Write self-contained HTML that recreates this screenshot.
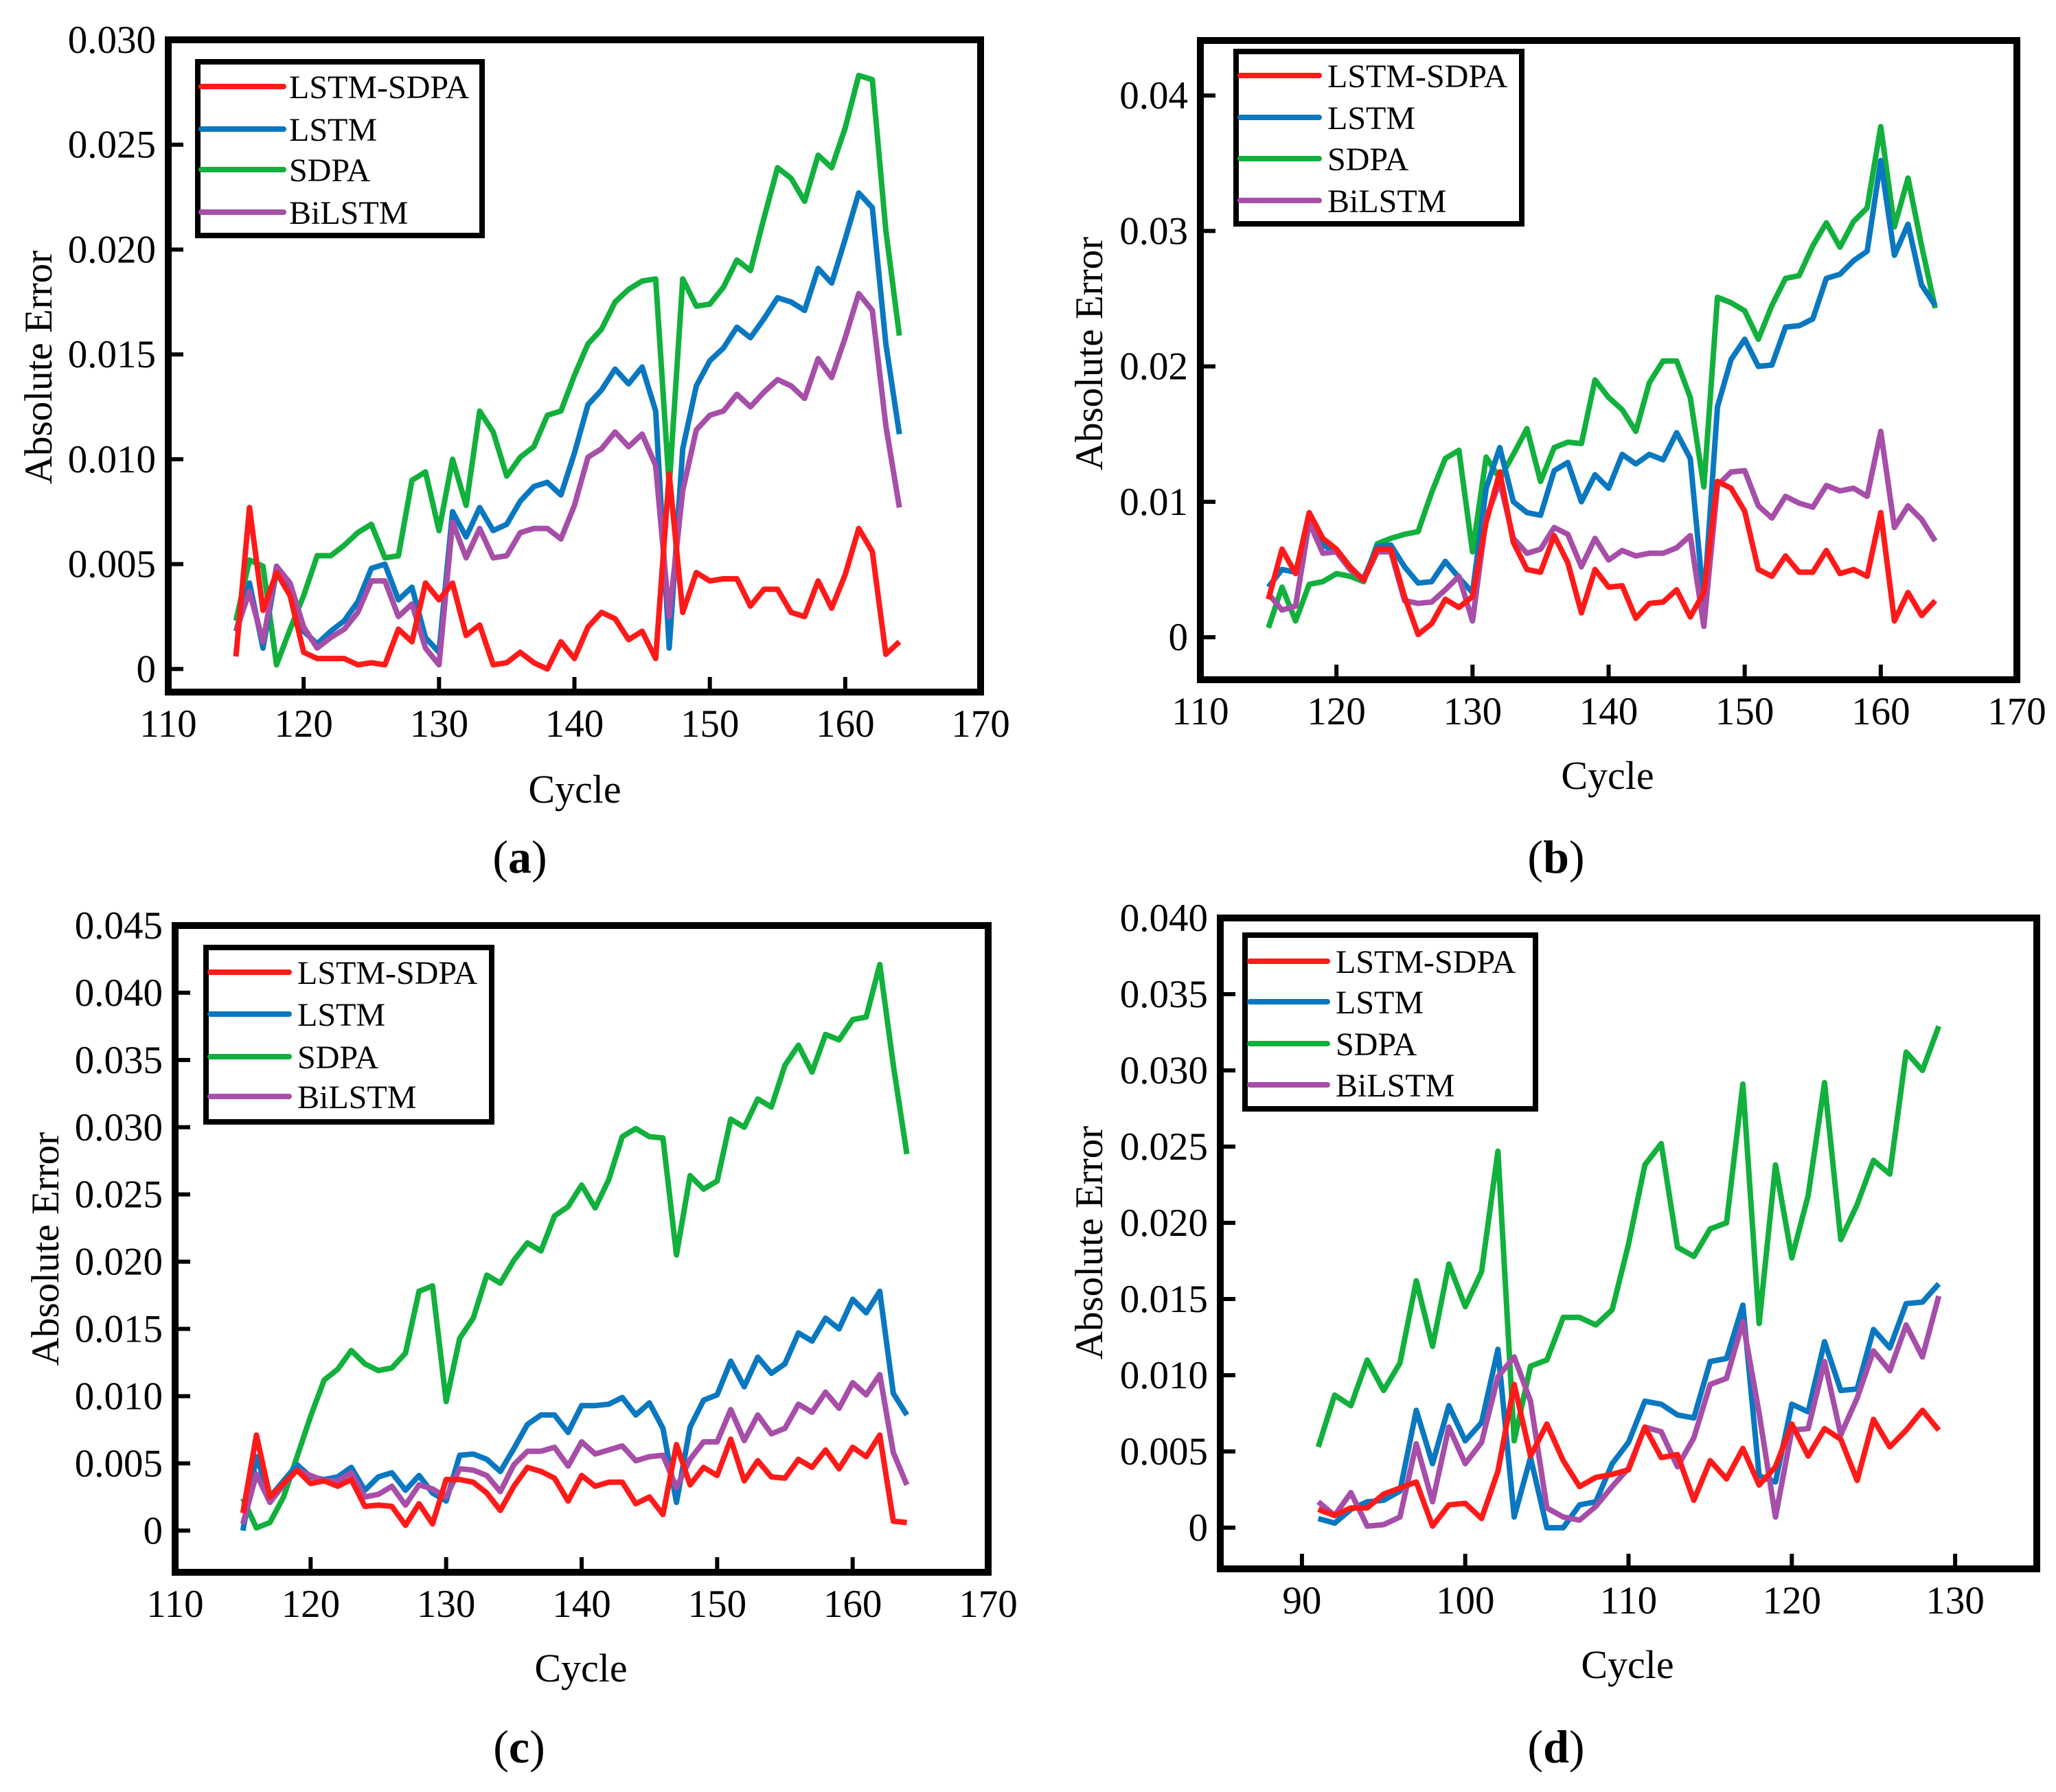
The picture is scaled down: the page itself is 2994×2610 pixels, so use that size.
<!DOCTYPE html>
<html><head><meta charset="utf-8"><style>
html,body{margin:0;padding:0;background:#fff}
svg{display:block}
text{font-family:"Liberation Serif",serif;fill:#000}
</style></head><body>
<svg id="fig" width="2994" height="2610" viewBox="0 0 2994 2610" xmlns="http://www.w3.org/2000/svg"></svg>
<script>
// ---- data ----
const cyclesABC = Array.from({length:50},(_,i)=>115+i);
const cyclesD = Array.from({length:39},(_,i)=>91+i);
const seriesNames = ["LSTM-SDPA","LSTM","SDPA","BiLSTM"];

const aRed=[0.0006,0.0077,0.0028,0.0046,0.0035,0.0008,0.0005,0.0005,0.0005,0.0002,0.0003,0.0002,0.0019,0.0013,0.0041,0.0033,0.0041,0.0016,0.0021,0.0002,0.0003,0.0008,0.0003,0.0000,0.0013,0.0005,0.0020,0.0027,0.0024,0.0014,0.0018,0.0005,0.0093,0.0027,0.0046,0.0042,0.0043,0.0043,0.0030,0.0038,0.0038,0.0027,0.0025,0.0042,0.0029,0.0045,0.0067,0.0056,0.0007,0.0013];
const aBlue=[0.0018,0.0041,0.0010,0.0047,0.0036,0.0018,0.0012,0.0018,0.0023,0.0032,0.0048,0.0050,0.0033,0.0039,0.0015,0.0008,0.0075,0.0063,0.0077,0.0066,0.0069,0.0080,0.0087,0.0089,0.0083,0.0103,0.0126,0.0133,0.0143,0.0136,0.0144,0.0123,0.0010,0.0105,0.0135,0.0147,0.0153,0.0163,0.0158,0.0167,0.0177,0.0175,0.0171,0.0191,0.0184,0.0205,0.0227,0.0220,0.0155,0.0112];
const aGreen=[0.0023,0.0052,0.0049,0.0002,0.0019,0.0035,0.0054,0.0054,0.0059,0.0065,0.0069,0.0053,0.0054,0.0090,0.0094,0.0066,0.0100,0.0078,0.0123,0.0113,0.0092,0.0101,0.0106,0.0121,0.0123,0.0140,0.0155,0.0162,0.0175,0.0181,0.0185,0.0186,0.0087,0.0186,0.0173,0.0174,0.0182,0.0195,0.0190,0.0215,0.0239,0.0234,0.0223,0.0245,0.0239,0.0258,0.0283,0.0281,0.0209,0.0159];
const aPurple=[0.0018,0.0037,0.0013,0.0049,0.0041,0.0020,0.0010,0.0015,0.0019,0.0027,0.0042,0.0042,0.0025,0.0031,0.0010,0.0002,0.0070,0.0053,0.0067,0.0053,0.0054,0.0065,0.0067,0.0067,0.0062,0.0078,0.0101,0.0105,0.0113,0.0106,0.0112,0.0097,0.0025,0.0085,0.0114,0.0121,0.0123,0.0131,0.0125,0.0132,0.0138,0.0135,0.0129,0.0148,0.0139,0.0158,0.0179,0.0171,0.0116,0.0077];

const bRed=[0.0028,0.0065,0.0047,0.0092,0.0073,0.0065,0.0052,0.0042,0.0065,0.0065,0.0030,0.0002,0.0010,0.0028,0.0022,0.0030,0.0085,0.0122,0.0070,0.0050,0.0048,0.0075,0.0055,0.0018,0.0050,0.0037,0.0038,0.0014,0.0025,0.0026,0.0035,0.0015,0.0033,0.0115,0.0110,0.0093,0.0050,0.0045,0.0060,0.0048,0.0048,0.0064,0.0047,0.0050,0.0045,0.0092,0.0012,0.0033,0.0016,0.0027];
const bBlue=[0.0037,0.0050,0.0048,0.0087,0.0068,0.0063,0.0050,0.0043,0.0067,0.0068,0.0052,0.0040,0.0041,0.0056,0.0044,0.0033,0.0110,0.0140,0.0100,0.0092,0.0090,0.0123,0.0129,0.0100,0.0120,0.0110,0.0135,0.0128,0.0135,0.0131,0.0151,0.0132,0.0025,0.0170,0.0205,0.0220,0.0200,0.0201,0.0229,0.0230,0.0235,0.0265,0.0268,0.0278,0.0285,0.0352,0.0282,0.0305,0.0260,0.0245];
const bGreen=[0.0007,0.0037,0.0012,0.0039,0.0041,0.0047,0.0045,0.0041,0.0069,0.0073,0.0076,0.0078,0.0107,0.0132,0.0138,0.0063,0.0133,0.0117,0.0135,0.0154,0.0115,0.0140,0.0144,0.0143,0.0190,0.0177,0.0168,0.0152,0.0188,0.0204,0.0204,0.0177,0.0111,0.0251,0.0247,0.0241,0.0220,0.0245,0.0265,0.0267,0.0289,0.0306,0.0288,0.0307,0.0317,0.0377,0.0303,0.0339,0.0289,0.0243];
const bPurple=[0.0032,0.0020,0.0023,0.0085,0.0062,0.0063,0.0050,0.0042,0.0063,0.0063,0.0027,0.0025,0.0026,0.0035,0.0045,0.0012,0.0088,0.0115,0.0073,0.0062,0.0065,0.0081,0.0076,0.0052,0.0073,0.0057,0.0064,0.0060,0.0062,0.0062,0.0066,0.0075,0.0008,0.0112,0.0122,0.0123,0.0097,0.0088,0.0104,0.0099,0.0096,0.0112,0.0108,0.0110,0.0104,0.0152,0.0081,0.0097,0.0087,0.0071];

const cRed=[0.0013,0.0071,0.0025,0.0035,0.0045,0.0035,0.0037,0.0033,0.0038,0.0018,0.0019,0.0018,0.0004,0.0020,0.0005,0.0038,0.0038,0.0036,0.0028,0.0015,0.0033,0.0047,0.0044,0.0039,0.0022,0.0041,0.0033,0.0036,0.0036,0.0020,0.0025,0.0012,0.0064,0.0034,0.0047,0.0041,0.0068,0.0037,0.0052,0.0040,0.0039,0.0053,0.0047,0.0060,0.0046,0.0062,0.0055,0.0071,0.0007,0.0006];
const cBlue=[0.0000,0.0055,0.0025,0.0037,0.0049,0.0040,0.0038,0.0040,0.0047,0.0030,0.0040,0.0043,0.0030,0.0041,0.0028,0.0022,0.0056,0.0057,0.0053,0.0044,0.0061,0.0079,0.0086,0.0086,0.0073,0.0093,0.0093,0.0094,0.0099,0.0086,0.0095,0.0076,0.0021,0.0077,0.0097,0.0101,0.0126,0.0107,0.0129,0.0117,0.0124,0.0147,0.0141,0.0158,0.0150,0.0172,0.0162,0.0178,0.0102,0.0086];
const cGreen=[0.0024,0.0002,0.0006,0.0025,0.0055,0.0085,0.0112,0.0120,0.0134,0.0124,0.0119,0.0121,0.0132,0.0178,0.0182,0.0096,0.0143,0.0158,0.0190,0.0184,0.0201,0.0214,0.0208,0.0234,0.0241,0.0257,0.0240,0.0261,0.0293,0.0299,0.0293,0.0292,0.0205,0.0264,0.0254,0.0260,0.0306,0.0300,0.0321,0.0315,0.0346,0.0361,0.0341,0.0369,0.0365,0.0380,0.0382,0.0421,0.0346,0.0280];
const cPurple=[0.0005,0.0042,0.0021,0.0034,0.0045,0.0041,0.0037,0.0037,0.0043,0.0025,0.0027,0.0033,0.0019,0.0034,0.0031,0.0025,0.0046,0.0045,0.0041,0.0029,0.0049,0.0059,0.0059,0.0062,0.0048,0.0066,0.0057,0.0060,0.0063,0.0052,0.0055,0.0056,0.0032,0.0053,0.0066,0.0066,0.0090,0.0067,0.0086,0.0072,0.0076,0.0094,0.0088,0.0103,0.0091,0.0110,0.0101,0.0116,0.0058,0.0034];

const dRed=[0.0012,0.0008,0.0013,0.0013,0.0022,0.0026,0.0030,0.0001,0.0015,0.0016,0.0006,0.0037,0.0094,0.0047,0.0068,0.0044,0.0027,0.0033,0.0035,0.0038,0.0066,0.0046,0.0048,0.0018,0.0044,0.0032,0.0052,0.0028,0.0040,0.0068,0.0047,0.0065,0.0058,0.0031,0.0071,0.0053,0.0064,0.0077,0.0064];
const dBlue=[0.0006,0.0003,0.0012,0.0017,0.0018,0.0024,0.0077,0.0042,0.0080,0.0057,0.0069,0.0117,0.0007,0.0046,0.0000,0.0000,0.0015,0.0017,0.0042,0.0056,0.0083,0.0081,0.0074,0.0072,0.0109,0.0111,0.0146,0.0034,0.0030,0.0081,0.0076,0.0122,0.0090,0.0091,0.0130,0.0118,0.0147,0.0148,0.0160];
const dGreen=[0.0053,0.0087,0.0080,0.0110,0.0090,0.0108,0.0162,0.0119,0.0173,0.0145,0.0168,0.0247,0.0057,0.0106,0.0110,0.0138,0.0138,0.0133,0.0143,0.0186,0.0238,0.0252,0.0184,0.0178,0.0196,0.0200,0.0291,0.0134,0.0238,0.0177,0.0218,0.0292,0.0189,0.0212,0.0241,0.0232,0.0312,0.0300,0.0329];
const dPurple=[0.0017,0.0008,0.0023,0.0001,0.0002,0.0007,0.0055,0.0017,0.0066,0.0042,0.0056,0.0099,0.0112,0.0083,0.0013,0.0007,0.0005,0.0014,0.0027,0.0039,0.0066,0.0063,0.0040,0.0059,0.0094,0.0098,0.0135,0.0075,0.0007,0.0064,0.0065,0.0109,0.0061,0.0085,0.0116,0.0103,0.0133,0.0112,0.0152];

const xTicksABC=[110,120,130,140,150,160,170];
const xTicksD=[90,100,110,120,130];
const yTicksA=[0,0.005,0.010,0.015,0.020,0.025,0.030];
const yTicksB=[0,0.01,0.02,0.03,0.04];
const yTicksC=[0,0.005,0.010,0.015,0.020,0.025,0.030,0.035,0.040,0.045];
const yTicksD=[0,0.005,0.010,0.015,0.020,0.025,0.030,0.035,0.040];

const colors={red:"#ff1a1a",blue:"#0a78c0",green:"#12b03c",purple:"#a64ea8"};

const panels=[
 {id:"a",x:cyclesABC,s:{red:aRed,blue:aBlue,green:aGreen,purple:aPurple},xt:xTicksABC,yt:yTicksA,dec:3,
  L:245,R:1428,T:58,B:1008,x0:110,x1:170,y0:-0.0011,y1:0.030,
  leg:[288,90,702,343],rows:[126,188,247,309],lx:[293,413],tx:421,
  yt_x:55,yt_y:535,cx:837,cy:1149,lab:[757,1247]},
 {id:"b",x:cyclesABC,s:{red:bRed,blue:bBlue,green:bGreen,purple:bPurple},xt:xTicksABC,yt:yTicksB,dec:2,
  L:1748,R:2937,T:59,B:990,x0:110,x1:170,y0:-0.00314,y1:0.04406,
  leg:[1800,75,2216,326],rows:[110,171,231,292],lx:[1806,1921],tx:1933,
  yt_x:1585,yt_y:515,cx:2341,cy:1129,lab:[2266,1247]},
 {id:"c",x:cyclesABC,s:{red:cRed,blue:cBlue,green:cGreen,purple:cPurple},xt:xTicksABC,yt:yTicksC,dec:3,
  L:255,R:1439,T:1348,B:2290,x0:110,x1:170,y0:-0.0031,y1:0.045,
  leg:[300,1380,716,1634],rows:[1416,1477,1539,1597],lx:[306,421],tx:433,
  yt_x:65,yt_y:1819,cx:846,cy:2429,lab:[756,2543]},
 {id:"d",x:cyclesD,s:{red:dRed,blue:dBlue,green:dGreen,purple:dPurple},xt:xTicksD,yt:yTicksD,dec:3,
  L:1777,R:2966,T:1337,B:2285,x0:85,x1:135,y0:-0.0027,y1:0.040,
  leg:[1813,1362,2236,1615],rows:[1400,1459,1520,1580],lx:[1820,1933],tx:1945,
  yt_x:1585,yt_y:1810,cx:2370,cy:2424,lab:[2266,2543]}
];

const NS="http://www.w3.org/2000/svg";
const svg=document.getElementById("fig");
function mk(tag,attrs,parent){const e=document.createElementNS(NS,tag);for(const k in attrs)e.setAttribute(k,attrs[k]);(parent||svg).appendChild(e);return e;}

panels.forEach(p=>{
  const g=mk("g",{});
  
  
  const X=v=>p.L+(v-p.x0)/(p.x1-p.x0)*(p.R-p.L);
  const Y=v=>p.B-(v-p.y0)/(p.y1-p.y0)*(p.B-p.T);
  [["green",2],["blue",1],["purple",3],["red",0]].forEach(([c,i])=>{
    const vals=p.s[c];
    const d=vals.map((v,k)=>(k?"L":"M")+X(p.x[k]).toFixed(1)+","+Y(v).toFixed(1)).join(" ");
    const path=mk("path",{d:d,fill:"none",stroke:colors[c],"stroke-width":8,"stroke-linejoin":"round"},g);
    
    
  });
  const fr=mk("rect",{x:p.L,y:p.T,width:p.R-p.L,height:p.B-p.T,fill:"none",stroke:"#000","stroke-width":10},g);
  
  
  p.yt.forEach(v=>{
    const y=Y(v);
    const t=mk("line",{x1:p.L,x2:p.L+22,y1:y,y2:y,stroke:"#000","stroke-width":6},g);
    
    
    const tx=mk("text",{x:p.L-18,y:y+19,"text-anchor":"end","font-size":57},g);
    tx.textContent=v===0?"0":v.toFixed(p.dec);
    
    
  });
  p.xt.forEach(v=>{
    const x=X(v);
    const t=mk("line",{x1:x,x2:x,y1:p.B,y2:p.B-22,stroke:"#000","stroke-width":6},g);
    
    
    const tx=mk("text",{x:x,y:p.B+65,"text-anchor":"middle","font-size":57},g);
    tx.textContent=String(v);
    
    
  });
  const yt=mk("text",{x:0,y:0,"text-anchor":"middle","font-size":57,transform:`translate(${p.yt_x+20},${p.yt_y}) rotate(-90)`},g);
  yt.textContent="Absolute Error";
  
  
  const xt=mk("text",{x:p.cx,y:p.cy+20,"text-anchor":"middle","font-size":58},g);
  xt.textContent="Cycle";
  
  
  const lb=mk("text",{x:p.lab[0],y:p.lab[1]+24,"text-anchor":"middle","font-size":68},g);
  lb.innerHTML='(<tspan font-weight="bold">'+p.id+'</tspan>)';
  
  
  const lg=mk("g",{},g);
  
  
  mk("rect",{x:p.leg[0],y:p.leg[1],width:p.leg[2]-p.leg[0],height:p.leg[3]-p.leg[1],fill:"#fff",stroke:"#000","stroke-width":8},lg);
  ["red","blue","green","purple"].forEach((c,i)=>{
    const e=mk("g",{},lg);
    
    
    mk("line",{x1:p.lx[0],x2:p.lx[1],y1:p.rows[i],y2:p.rows[i],stroke:colors[c],"stroke-width":8,"stroke-linecap":"round"},e);
    const t=mk("text",{x:p.tx,y:p.rows[i]+17,"font-size":48},e);
    t.textContent=seriesNames[i];
  });
});
</script>
</body></html>
